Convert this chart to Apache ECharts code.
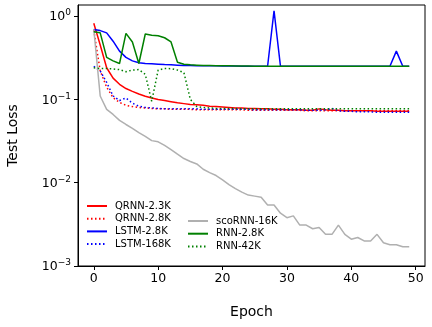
<!DOCTYPE html>
<html>
<head>
<meta charset="utf-8">
<script src="https://cdn.jsdelivr.net/npm/echarts@6/dist/echarts.min.js"></script>
<style>
html,body{margin:0;padding:0;background:#fff;}
#chart{width:432px;height:327px;}
</style>
</head>
<body>
<div id="chart"></div>
<script>
var epochs = [0,1,2,3,4,5,6,7,8,9,10,11,12,13,14,15,16,17,18,19,20,21,22,23,24,25,26,27,28,29,30,31,32,33,34,35,36,37,38,39,40,41,42,43,44,45,46,47,48,49];

var qrnn23k = [0.82,0.45,0.24,0.18,0.152,0.135,0.125,0.116,0.109,0.104,0.100,0.097,0.094,0.091,0.089,0.087,0.086,0.085,0.083,0.082,0.081,0.080,0.079,0.079,0.078,0.078,0.077,0.077,0.076,0.076,0.075,0.075,0.075,0.074,0.074,0.077,0.075,0.074,0.074,0.073,0.073,0.073,0.073,0.073,0.072,0.072,0.072,0.072,0.072,0.072];
var qrnn28k = [0.68,0.22,0.14,0.105,0.092,0.085,0.082,0.080,0.079,0.078,0.077,0.077,0.076,0.076,0.076,0.076,0.075,0.075,0.075,0.075,0.075,0.075,0.075,0.075,0.074,0.074,0.074,0.074,0.074,0.074,0.074,0.074,0.074,0.073,0.073,0.073,0.073,0.073,0.073,0.073,0.073,0.073,0.073,0.073,0.073,0.073,0.073,0.073,0.073,0.073];
var lstm28k = [0.69,0.67,0.63,0.50,0.38,0.32,0.29,0.275,0.270,0.268,0.265,0.262,0.260,0.258,0.256,0.255,0.254,0.254,0.253,0.253,0.252,0.252,0.252,0.251,0.251,0.251,0.251,0.250,1.16,0.250,0.250,0.250,0.250,0.250,0.250,0.250,0.250,0.250,0.250,0.250,0.250,0.250,0.250,0.250,0.250,0.250,0.250,0.38,0.250,0.250];
var lstm168k = [0.25,0.22,0.16,0.11,0.097,0.104,0.090,0.083,0.080,0.079,0.078,0.077,0.077,0.077,0.077,0.077,0.077,0.076,0.076,0.076,0.076,0.076,0.076,0.076,0.076,0.075,0.075,0.075,0.075,0.075,0.075,0.075,0.075,0.074,0.074,0.074,0.075,0.078,0.073,0.072,0.072,0.071,0.071,0.071,0.070,0.070,0.070,0.070,0.070,0.070];
var scornn16k = [0.70,0.11,0.076,0.066,0.056,0.050,0.045,0.040,0.036,0.032,0.031,0.028,0.025,0.022,0.0195,0.018,0.0168,0.0145,0.0132,0.0122,0.0108,0.0095,0.0085,0.0077,0.0071,0.0069,0.0067,0.0054,0.0054,0.0043,0.0038,0.0040,0.0031,0.0031,0.0028,0.0029,0.0024,0.0024,0.0031,0.0024,0.0021,0.0022,0.0020,0.0020,0.0024,0.0019,0.0018,0.0018,0.0017,0.0017];
var rnn28k = [0.65,0.63,0.32,0.29,0.27,0.62,0.49,0.27,0.61,0.59,0.58,0.55,0.49,0.28,0.265,0.260,0.258,0.256,0.255,0.254,0.253,0.253,0.252,0.252,0.252,0.251,0.251,0.251,0.251,0.251,0.250,0.250,0.250,0.250,0.250,0.250,0.250,0.250,0.250,0.250,0.250,0.250,0.250,0.250,0.250,0.250,0.250,0.250,0.250,0.250];
var rnn42k = [0.24,0.235,0.235,0.232,0.228,0.215,0.225,0.228,0.20,0.095,0.225,0.235,0.234,0.225,0.21,0.10,0.082,0.080,0.079,0.078,0.078,0.078,0.078,0.077,0.077,0.077,0.077,0.077,0.077,0.077,0.077,0.077,0.077,0.077,0.077,0.077,0.077,0.077,0.077,0.077,0.077,0.077,0.077,0.077,0.077,0.077,0.077,0.077,0.077,0.077];

var xTicks = [0,10,20,30,40,50];
var yTicks = [0.001,0.01,0.1,1];

var FONT = 'DejaVu Sans';
var DOT = [1.5, 2.5];

function pairs(vals){ return epochs.map(function(e,i){ return [e, vals[i]]; }); }
function mk(name, vals, color, dotted){
  return {
    name: name, type: 'line', data: pairs(vals), symbol: 'none', silent: true,
    lineStyle: { color: color, width: 1.5, type: dotted ? DOT : 'solid' },
    itemStyle: { color: color }
  };
}

var series = [
  mk('QRNN-2.3K', qrnn23k, '#ff0000', false),
  mk('QRNN-2.8K', qrnn28k, '#ff0000', true),
  mk('LSTM-2.8K', lstm28k, '#0000ff', false),
  mk('LSTM-168K', lstm168k, '#0000ff', true),
  mk('scoRNN-16K', scornn16k, '#b0b0b0', false),
  mk('RNN-2.8K', rnn28k, '#008000', false),
  mk('RNN-42K', rnn42k, '#008000', true)
];

function legendCfg(left, top, names){
  return {
    orient: 'vertical', padding: 0, itemWidth: 20, itemHeight: 12, itemGap: 2.7,
    left: left, top: top, data: names, selectedMode: false,
    itemStyle: { opacity: 0 },
    textStyle: { fontFamily: FONT, fontSize: 10, color: '#000', padding: [0,0,0,3] }
  };
}

var option = {
  animation: false,
  backgroundColor: '#fff',
  grid: { left: 78, right: 7, top: 5, bottom: 61, containLabel: false, outerBoundsMode: 'none', show: true, borderColor: '#000', borderWidth: 1, backgroundColor: 'transparent' },
  legend: [
    legendCfg(86, 201, ['QRNN-2.3K','QRNN-2.8K','LSTM-2.8K','LSTM-168K']),
    legendCfg(187, 216, ['scoRNN-16K','RNN-2.8K','RNN-42K'])
  ],
  xAxis: {
    type: 'value', min: -2.45, max: 51.45,
    name: 'Epoch', nameLocation: 'middle', nameGap: 39,
    nameTextStyle: { fontFamily: FONT, fontSize: 14, color: '#000' },
    axisLine: { show: true, onZero: false, lineStyle: { color: '#000', width: 1 } },
    axisTick: { show: true, inside: false, length: 4, lineStyle: { color: '#000' }, customValues: xTicks },
    axisLabel: { fontFamily: FONT, fontSize: 12.5, color: '#000', margin: 6, customValues: xTicks },
    splitLine: { show: false }
  },
  yAxis: {
    type: 'log', logBase: 10, min: 0.001, max: 1.36,
    name: 'Test Loss', nameLocation: 'middle', nameGap: 58,
    nameTextStyle: { fontFamily: FONT, fontSize: 14, color: '#000' },
    axisLine: { show: true, onZero: false, lineStyle: { color: '#000', width: 1 } },
    axisTick: { show: true, inside: false, length: 4, lineStyle: { color: '#000' }, customValues: yTicks },
    axisLabel: {
      fontFamily: FONT, fontSize: 12.5, color: '#000', margin: 7, customValues: yTicks,
      formatter: function(v){
        var e = Math.round(Math.log10(v));
        if (Math.abs(Math.log10(v) - e) > 1e-6) return '';
        var s = e < 0 ? '\u2212' + (-e) : '' + e;
        return '{b|10}{s|' + s + '}';
      },
      rich: {
        b: { fontFamily: FONT, fontSize: 12.5, color: '#000', verticalAlign: 'bottom' },
        s: { fontFamily: FONT, fontSize: 9, color: '#000', verticalAlign: 'top', padding: [0,0,6,0] }
      }
    },
    splitLine: { show: false }
  },
  series: series
};

var chart = echarts.init(document.getElementById('chart'), null, { renderer: 'canvas' });
chart.setOption(option);
</script>
</body>
</html>
